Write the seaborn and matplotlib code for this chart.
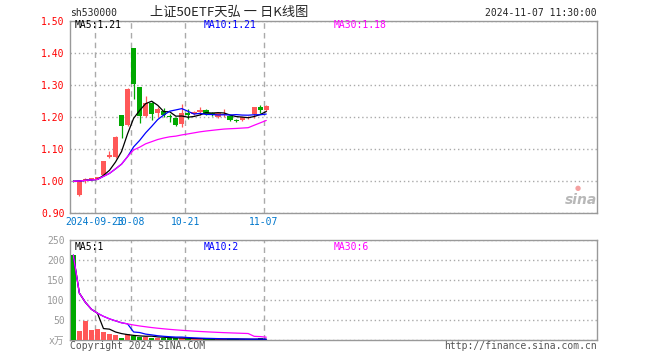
import numpy as np
import pandas as pd
import seaborn as sns
from matplotlib import pyplot as plt

# daily candles, sh530000
dates = ['2024-09-13', '09-18', '09-19', '09-20', '09-23', '09-24', '09-25', '09-26',
         '09-27', '09-30', '10-08', '10-09', '10-10', '10-11', '10-14', '10-15',
         '10-16', '10-17', '10-18', '10-21', '10-22', '10-23', '10-24', '10-25',
         '10-28', '10-29', '10-30', '10-31', '11-01', '11-04', '11-05', '11-06', '11-07']
opens = [1.000, 0.955, 1.000, 1.004, 1.006, 1.018, 1.075, 1.073, 1.205, 1.174, 1.415,
         1.293, 1.202, 1.243, 1.212, 1.219, 1.203, 1.197, 1.176, 1.211, 1.209, 1.215,
         1.221, 1.212, 1.200, 1.206, 1.202, 1.189, 1.190, 1.196, 1.209, 1.229, 1.221]
highs = [1.002, 1.000, 1.008, 1.009, 1.012, 1.062, 1.092, 1.140, 1.205, 1.290, 1.415,
         1.293, 1.265, 1.245, 1.229, 1.226, 1.208, 1.200, 1.240, 1.223, 1.219, 1.229,
         1.224, 1.216, 1.213, 1.224, 1.206, 1.193, 1.200, 1.203, 1.231, 1.236, 1.236]
lows = [0.996, 0.953, 0.992, 1.002, 1.004, 1.016, 1.072, 1.070, 1.132, 1.172, 1.255,
        1.181, 1.200, 1.190, 1.200, 1.198, 1.184, 1.171, 1.167, 1.193, 1.205, 1.205,
        1.206, 1.203, 1.197, 1.198, 1.187, 1.182, 1.185, 1.192, 1.195, 1.213, 1.219]
closes = [0.998, 1.000, 1.005, 1.007, 1.010, 1.061, 1.079, 1.135, 1.171, 1.287, 1.302,
          1.202, 1.242, 1.209, 1.223, 1.204, 1.198, 1.174, 1.212, 1.204, 1.215, 1.222,
          1.210, 1.206, 1.210, 1.210, 1.190, 1.186, 1.198, 1.200, 1.229, 1.221, 1.233]
# volume in 万
volumes = [212, 22.5, 48, 25, 27.5, 20, 15, 12.5, 5, 15, 10, 8.5, 8.5, 6, 6, 6, 4, 4,
           5, 3, 2.5, 2.5, 3, 2.5, 2, 2, 3, 2.5, 1.5, 1.2, 1.2, 4, 1]

tick_idx = [4, 10, 19, 32]
tick_labels = ['2024-09-23', '10-08', '10-21', '11-07']
price_ticks = [0.90, 1.00, 1.10, 1.20, 1.30, 1.40, 1.50]
vol_ticks = [0, 50, 100, 150, 200, 250]
vol_tick_labels = ['x万', '50', '100', '150', '200', '250']

RED = '#ff5858'
GREEN = '#00a800'
GRID = '#aaaaaa'
MONO = 'DejaVu Sans Mono'
BAR_W = 0.88

sns.set_style('white')
plt.rcParams['font.family'] = [MONO, 'Noto Sans CJK SC']

df = pd.DataFrame({'idx': np.arange(len(dates)), 'open': opens, 'high': highs,
                   'low': lows, 'close': closes, 'vol': volumes})
df['dir'] = np.where(df['close'] >= df['open'], 'up', 'down')
for n in (5, 10, 30):
    df[f'ma{n}'] = df['close'].rolling(n, min_periods=1).mean()
    df[f'vma{n}'] = df['vol'].rolling(n, min_periods=1).mean()
colors = [RED if d == 'up' else GREEN for d in df['dir']]

W, H = 660, 360
fig = plt.figure(figsize=(6.6, 3.6), dpi=100)
ax = fig.add_axes([70.3 / W, 1 - 212.7 / H, 527 / W, 192 / H])
axv = fig.add_axes([70.3 / W, 1 - 340 / H, 527 / W, 100 / H])

# candles
ax.vlines(df['idx'], df['low'], df['high'], colors=colors, lw=0.9, zorder=2)
body = (df['close'] - df['open']).abs().clip(lower=0.002)
ax.bar(df['idx'], body, bottom=df[['open', 'close']].min(axis=1), width=0.86,
       color=colors, linewidth=0, zorder=3)
for col, c in [('ma5', 'black'), ('ma10', '#0000ff'), ('ma30', '#ff00ff')]:
    sns.lineplot(data=df, x='idx', y=col, color=c, lw=0.9, ax=ax, zorder=4)

# volume
sns.barplot(data=df, x='idx', y='vol', hue='dir', palette={'up': RED, 'down': GREEN},
            native_scale=True, width=BAR_W, dodge=False, errorbar=None, saturation=1,
            legend=False, ax=axv, zorder=3, linewidth=0, edgecolor='none')
for p in axv.patches:
    cx = p.get_x() + p.get_width() / 2
    p.set_width(BAR_W)
    p.set_x(cx - BAR_W / 2)
for col, c in [('vma5', 'black'), ('vma10', '#0000ff'), ('vma30', '#ff00ff')]:
    sns.lineplot(data=df, x='idx', y=col, color=c, lw=0.9, ax=axv, zorder=4)

for a in (ax, axv):
    a.set_xlim(-0.5, 86.9)
    a.set_xticks([i - 0.45 for i in tick_idx])
    a.grid(axis='x', color=GRID, linestyle=(0, (4, 3)), lw=1.0)
    a.grid(axis='y', color=GRID, linestyle=(0, (1, 2)), lw=1.0)
    a.set_xlabel('')
    a.set_ylabel('')
    a.tick_params(length=0)
    for s in a.spines.values():
        s.set_color('#999999')
        s.set_linewidth(1.0)

ax.set_ylim(0.90, 1.50)
ax.set_yticks(price_ticks)
ax.set_yticklabels([f'{v:.2f}' for v in price_ticks], color='#ff0000', fontsize=7, family=MONO)
ax.set_xticklabels(tick_labels, color='#0077cc', fontsize=7, family=MONO)
ax.tick_params(axis='x', pad=3)
ax.tick_params(axis='y', pad=4)

axv.set_ylim(0, 250)
axv.set_yticks(vol_ticks)
axv.set_yticklabels(vol_tick_labels, color='#999999', fontsize=7,
                    family=[MONO, 'Noto Sans CJK SC'])
axv.set_xticklabels([])
axv.tick_params(axis='y', pad=4)


def ftext(x, y, s, **kw):
    fig.text(x / W, 1 - y / H, s, **kw)


ftext(70, 13.5, 'sh530000', fontsize=7, va='center', family=MONO)
ftext(150, 12, '上证50ETF天弘 一 日K线图', fontsize=9.5, va='center',
      family=['Noto Sans CJK SC', 'DejaVu Sans'])
ftext(597, 13, '2024-11-07 11:30:00', fontsize=7, va='center', ha='right', family=MONO)

ftext(75, 25, 'MA5:1.21', fontsize=7, va='center', color='black', family=MONO)
ftext(204, 25, 'MA10:1.21', fontsize=7, va='center', color='#0000ff', family=MONO)
ftext(334, 25, 'MA30:1.18', fontsize=7, va='center', color='#ff00ff', family=MONO)

ftext(75, 246.5, 'MA5:1', fontsize=7, va='center', color='black', family=MONO)
ftext(204, 246.5, 'MA10:2', fontsize=7, va='center', color='#0000ff', family=MONO)
ftext(334, 246.5, 'MA30:6', fontsize=7, va='center', color='#ff00ff', family=MONO)

ftext(70, 346, 'Copyright 2024 SINA.COM', fontsize=7, va='center', color='#555555', family=MONO)
ftext(597, 346, 'http://finance.sina.com.cn', fontsize=7, va='center', ha='right',
      color='#555555', family=MONO)

# watermark
ftext(581, 200, 'sina', fontsize=10, va='center', ha='center', color='#b8b8b8',
      style='italic', weight='bold', family='DejaVu Sans')
ftext(578, 188, '●', fontsize=5, va='center', ha='center', color='#f4a0a0', family='DejaVu Sans')

fig.savefig('out.png', dpi=100)
